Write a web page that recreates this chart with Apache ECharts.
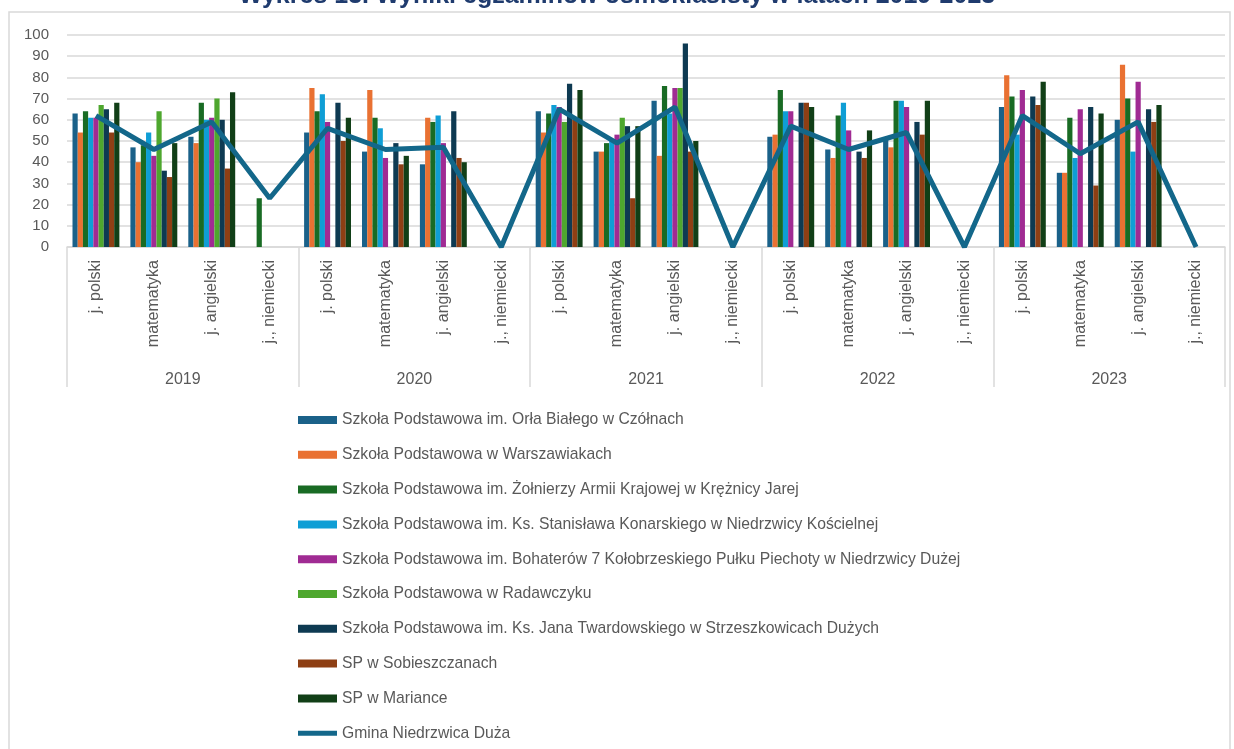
<!DOCTYPE html>
<html>
<head>
<meta charset="utf-8">
<script src="https://cdn.jsdelivr.net/npm/echarts@6/dist/echarts.min.js"></script>
<style>
html,body{margin:0;padding:0;background:#fff;}
#chart{width:1234px;height:749px;}
</style>
</head>
<body>
<div id="chart"></div>
<script>
const years = ['2019', '2020', '2021', '2022', '2023'];
const subjects = ['j. polski', 'matematyka', 'j. angielski', 'j., niemiecki'];
const categories = [];
years.forEach(function () { subjects.forEach(function (s) { categories.push(s); }); });

const schoolNames = [
  'Szkoła Podstawowa im. Orła Białego w Czółnach',
  'Szkoła Podstawowa w Warszawiakach',
  'Szkoła Podstawowa im. Żołnierzy Armii Krajowej w Krężnicy Jarej',
  'Szkoła Podstawowa im. Ks. Stanisława Konarskiego w Niedrzwicy Kościelnej',
  'Szkoła Podstawowa im. Bohaterów 7 Kołobrzeskiego Pułku Piechoty w Niedrzwicy Dużej',
  'Szkoła Podstawowa w Radawczyku',
  'Szkoła Podstawowa im. Ks. Jana Twardowskiego w Strzeszkowicach Dużych',
  'SP w Sobieszczanach',
  'SP w Mariance'
];
const lineName = 'Gmina Niedrzwica Duża';

// values per category: [2019 jp, mat, ang, niem, 2020 ..., 2021 ..., 2022 ..., 2023 ...]
const czolna      = [63, 47, 52, null, 54, 45, 39, null, 64, 45, 69, null, 52, 46, 51, null, 66, 35, 60, null];
const warszawiaki = [54, 40, 49, null, 75, 74, 61, null, 54, 45, 43, null, 53, 42, 47, null, 81, 35, 86, null];
const kreznica    = [64, 48, 68, 23, 64, 61, 59, null, 63, 49, 76, null, 74, 62, 69, null, 71, 61, 70, null];
const niedrzwicaK = [61, 54, 60, null, 72, 56, 62, null, 67, 50, 63, null, 64, 68, 69, null, 53, 42, 45, null];
const niedrzwicaD = [61, 43, 61, null, 59, 42, 49, null, 66, 53, 75, null, 64, 55, 66, null, 74, 65, 78, null];
const radawczyk   = [67, 64, 70, null, null, null, null, null, 59, 61, 75, null, null, null, null, null, null, null, null, null];
const strzeszkow  = [65, 36, 60, null, 68, 49, 64, null, 77, 57, 96, null, 68, 45, 59, null, 71, 66, 65, null];
const sobieszczany= [54, 33, 37, null, 50, 39, 42, null, 60, 23, 45, null, 68, 42, 53, null, 67, 29, 59, null];
const marianka    = [68, 49, 73, null, 61, 43, 40, null, 74, 57, 50, null, 66, 55, 69, null, 78, 63, 67, null];
const gmina       = [62, 46, 59, 23, 56, 46, 47, 0, 65, 49, 66, 0, 57, 46, 54, 0, 62, 44, 59, 0];

const schoolValues = [czolna, warszawiaki, kreznica, niedrzwicaK, niedrzwicaD, radawczyk, strzeszkow, sobieszczany, marianka];
const barColors = ['#1a6189', '#e97132', '#196b24', '#0f9ed5', '#a02b93', '#4ea72e', '#0e3a52', '#8e3f14', '#113f17'];
const lineColor = '#13678a';

const series = schoolNames.map(function (n, i) {
  return {
    name: n, type: 'bar', xAxisIndex: 0, yAxisIndex: 0,
    data: schoolValues[i],
    barGap: '0%', barCategoryGap: '19%',
    itemStyle: { color: barColors[i] }
  };
});
series.push({
  name: lineName, type: 'line', data: gmina, xAxisIndex: 0,
  symbol: 'none', showSymbol: false, z: 5,
  lineStyle: { color: lineColor, width: 5 },
  itemStyle: { color: lineColor }
});

const chart = echarts.init(document.getElementById('chart'), null, { renderer: 'canvas' });
chart.setOption({
  animation: false,
  backgroundColor: '#ffffff',
  title: {
    text: 'Wykres 13. Wyniki egzaminów ósmoklasisty w latach 2019-2023',
    left: 'center', top: -21,
    textStyle: { fontFamily: 'Liberation Sans', fontSize: 25, fontWeight: 'bold', color: '#1f3b6e' }
  },
  graphic: [{
    type: 'rect', silent: true, z: -10,
    shape: { x: 9, y: 12, width: 1221, height: 760 },
    style: { fill: 'none', stroke: '#d9d9d9', lineWidth: 1.5 }
  }],
  grid: { left: 67, right: 9, top: 35, bottom: 502, containLabel: false },
  legend: {
    orient: 'vertical', left: 293, top: 406, height: 380,
    itemWidth: 39, itemHeight: 8, itemGap: 16.8,
    textStyle: { fontFamily: 'Liberation Sans', fontSize: 15.7, color: '#595959', lineHeight: 18 },
    data: schoolNames.map(function (n) { return { name: n, icon: 'rect' }; })
      .concat([{ name: lineName, icon: 'path://M0,0H80V10H0Z' }])
  },
  xAxis: [
    {
      type: 'category', data: categories, position: 'bottom',
      axisLine: { show: true, lineStyle: { color: '#d9d9d9', width: 1.5 } },
      axisTick: { show: false },
      axisLabel: { interval: 0, rotate: 90, margin: 13, fontFamily: 'Liberation Sans', fontSize: 16, color: '#595959' }
    },
    {
      type: 'category', data: years, position: 'bottom', gridIndex: 0,
      axisLine: { show: false },
      axisTick: { show: true, length: 140, lineStyle: { color: '#d9d9d9', width: 1.5 } },
      axisLabel: { interval: 0, margin: 125, fontFamily: 'Liberation Sans', fontSize: 16, color: '#595959' }
    }
  ],
  yAxis: {
    type: 'value', min: 0, max: 100, interval: 10,
    axisLine: { show: false }, axisTick: { show: false },
    axisLabel: { margin: 18, fontFamily: 'Liberation Sans', fontSize: 15, color: '#595959' },
    splitLine: { lineStyle: { color: '#d9d9d9', width: 1.5 } }
  },
  series: series
});
</script>
</body>
</html>
